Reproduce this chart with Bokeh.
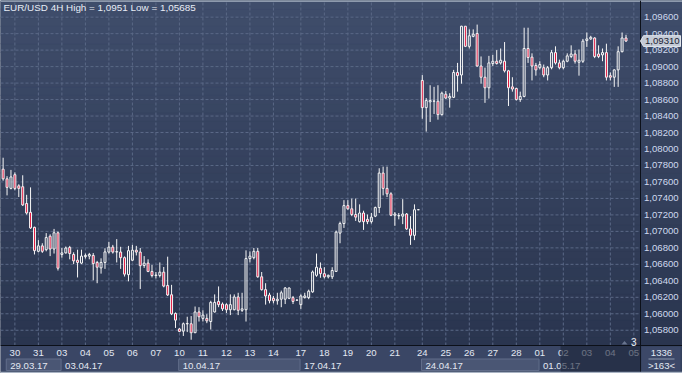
import numpy as np
from bokeh.plotting import figure
from bokeh.models import Range1d
from bokeh.core.properties import value
from bokeh.embed import file_html
from bokeh.resources import INLINE

# ---------------- data (EUR/USD 4H candles) ----------------
opens = [
    1.07755, 1.07638, 1.07522, 1.07688, 1.07553, 1.07542, 1.07339, 1.07231, 1.07049, 1.06758,
    1.06824, 1.06778, 1.06941, 1.06786, 1.06983, 1.06720, 1.06739, 1.06805, 1.06720, 1.06650,
    1.06615, 1.06693, 1.06700, 1.06708, 1.06623, 1.06557, 1.06623, 1.06749, 1.06809, 1.06749,
    1.06749, 1.06681, 1.06475, 1.06650, 1.06772, 1.06749, 1.06586, 1.06615, 1.06514, 1.06464,
    1.06464, 1.06505, 1.06344, 1.06231, 1.06004, 1.05816, 1.05789, 1.05877, 1.05879, 1.05770,
    1.06022, 1.05944, 1.05944, 1.05906, 1.06022, 1.06150, 1.06118, 1.06111, 1.06049, 1.06049,
    1.06204, 1.06042, 1.06049, 1.06670, 1.06681, 1.06758, 1.06449, 1.06293, 1.06228, 1.06188,
    1.06158, 1.06177, 1.06177, 1.06188, 1.06196, 1.06165, 1.06111, 1.06196, 1.06196, 1.06266,
    1.06467, 1.06553, 1.06487, 1.06449, 1.06449, 1.06514, 1.06979, 1.07095, 1.07313, 1.07274,
    1.07205, 1.07118, 1.07223, 1.07146, 1.07118, 1.07185, 1.07289, 1.07708, 1.07522, 1.07456,
    1.07196, 1.07188, 1.07185, 1.07211, 1.07030, 1.06952, 1.07263, 1.08832, 1.08502, 1.08572,
    1.08580, 1.08580, 1.08417, 1.08665, 1.08618, 1.08627, 1.08929, 1.08898, 1.09490, 1.09246,
    1.09367, 1.09402, 1.09007, 1.08871, 1.08743, 1.09037, 1.09065, 1.09045, 1.09065, 1.08949,
    1.08754, 1.08735, 1.08600, 1.08638, 1.09220, 1.09115, 1.09014, 1.08987, 1.08987, 1.08898,
    1.08987, 1.09170, 1.09045, 1.08987, 1.09065, 1.09123, 1.09153, 1.09053, 1.09065, 1.09316,
    1.09336, 1.09347, 1.09153, 1.09142, 1.09170, 1.08890, 1.08871, 1.08960, 1.09181, 1.09347,
]
highs = [
    1.07894, 1.07670, 1.07746, 1.07716, 1.07572, 1.07681, 1.07444, 1.07534, 1.07057, 1.06894,
    1.06856, 1.06979, 1.06964, 1.07030, 1.06999, 1.06798, 1.06816, 1.06824, 1.06746, 1.06778,
    1.06778, 1.06731, 1.06739, 1.06737, 1.06642, 1.06673, 1.06795, 1.06874, 1.06836, 1.06906,
    1.06813, 1.06696, 1.06824, 1.06836, 1.06824, 1.06798, 1.06700, 1.06661, 1.06592, 1.06507,
    1.06623, 1.06568, 1.06693, 1.06351, 1.06016, 1.05828, 1.05894, 1.05964, 1.05972, 1.06088,
    1.06080, 1.06042, 1.05995, 1.06158, 1.06235, 1.06332, 1.06138, 1.06127, 1.06235, 1.06235,
    1.06255, 1.06255, 1.06770, 1.06758, 1.06798, 1.06798, 1.06507, 1.06371, 1.06255, 1.06216,
    1.06255, 1.06281, 1.06324, 1.06318, 1.06216, 1.06173, 1.06235, 1.06255, 1.06293, 1.06525,
    1.06731, 1.06623, 1.06565, 1.06475, 1.06565, 1.07010, 1.07118, 1.07379, 1.07379, 1.07398,
    1.07398, 1.07328, 1.07251, 1.07205, 1.07223, 1.07301, 1.07766, 1.07786, 1.07786, 1.07475,
    1.07235, 1.07223, 1.07391, 1.07223, 1.07185, 1.07328, 1.07266, 1.08897, 1.08618, 1.08774,
    1.08754, 1.08774, 1.08696, 1.08704, 1.08677, 1.08960, 1.09045, 1.09495, 1.09490, 1.09452,
    1.09452, 1.09510, 1.09123, 1.08987, 1.09130, 1.09142, 1.09200, 1.09220, 1.09298, 1.08960,
    1.08871, 1.08743, 1.08696, 1.09472, 1.09472, 1.09161, 1.09045, 1.09065, 1.09025, 1.09007,
    1.09200, 1.09246, 1.09084, 1.09084, 1.09161, 1.09258, 1.09200, 1.09208, 1.09336, 1.09414,
    1.09374, 1.09356, 1.09258, 1.09220, 1.09278, 1.08929, 1.08967, 1.09246, 1.09414, 1.09386,
]
lows = [
    1.07615, 1.07437, 1.07510, 1.07499, 1.07417, 1.07309, 1.07204, 1.07030, 1.06720, 1.06746,
    1.06739, 1.06758, 1.06700, 1.06731, 1.06525, 1.06681, 1.06731, 1.06661, 1.06603, 1.06441,
    1.06603, 1.06670, 1.06661, 1.06406, 1.06371, 1.06487, 1.06545, 1.06731, 1.06731, 1.06623,
    1.06545, 1.06452, 1.06394, 1.06638, 1.06708, 1.06301, 1.06557, 1.06505, 1.06441, 1.06429,
    1.06441, 1.06321, 1.06216, 1.05984, 1.05828, 1.05778, 1.05731, 1.05778, 1.05685, 1.05766,
    1.05906, 1.05906, 1.05886, 1.05809, 1.06016, 1.06080, 1.06034, 1.06010, 1.05984, 1.06042,
    1.05984, 1.06022, 1.05906, 1.06623, 1.06661, 1.06437, 1.06281, 1.06111, 1.06127, 1.06127,
    1.06111, 1.06080, 1.06118, 1.06177, 1.06118, 1.06156, 1.06060, 1.06185, 1.06177, 1.06255,
    1.06449, 1.06437, 1.06429, 1.06429, 1.06421, 1.06507, 1.06856, 1.07042, 1.07263, 1.07185,
    1.07127, 1.07107, 1.07018, 1.07088, 1.07095, 1.07173, 1.07223, 1.07437, 1.07417, 1.07185,
    1.07068, 1.07146, 1.07088, 1.07018, 1.06836, 1.06894, 1.07258, 1.08367, 1.08211, 1.08328,
    1.08425, 1.08356, 1.08406, 1.08609, 1.08502, 1.08618, 1.08696, 1.08793, 1.09237, 1.09220,
    1.09356, 1.08999, 1.08793, 1.08560, 1.08612, 1.09007, 1.09025, 1.09025, 1.08929, 1.08522,
    1.08696, 1.08588, 1.08572, 1.08627, 1.09045, 1.08832, 1.08890, 1.08967, 1.08871, 1.08832,
    1.08967, 1.09025, 1.08967, 1.08967, 1.09053, 1.09103, 1.09037, 1.08890, 1.09045, 1.09239,
    1.09324, 1.09103, 1.09103, 1.09065, 1.08832, 1.08832, 1.08754, 1.08754, 1.09173, 1.09301,
]
closes = [
    1.07638, 1.07534, 1.07661, 1.07522, 1.07522, 1.07321, 1.07223, 1.07042, 1.06766, 1.06824,
    1.06758, 1.06925, 1.06786, 1.06983, 1.06553, 1.06739, 1.06798, 1.06731, 1.06642, 1.06623,
    1.06700, 1.06708, 1.06720, 1.06609, 1.06565, 1.06623, 1.06751, 1.06809, 1.06749, 1.06755,
    1.06681, 1.06481, 1.06766, 1.06772, 1.06749, 1.06584, 1.06615, 1.06514, 1.06464, 1.06470,
    1.06505, 1.06336, 1.06228, 1.05999, 1.05923, 1.05786, 1.05879, 1.05882, 1.05770, 1.06022,
    1.05964, 1.05984, 1.05914, 1.06138, 1.06138, 1.06111, 1.06060, 1.06049, 1.06111, 1.06204,
    1.06042, 1.06060, 1.06670, 1.06700, 1.06758, 1.06449, 1.06293, 1.06216, 1.06158, 1.06158,
    1.06177, 1.06255, 1.06313, 1.06313, 1.06150, 1.06167, 1.06216, 1.06216, 1.06274, 1.06507,
    1.06565, 1.06487, 1.06449, 1.06467, 1.06525, 1.06991, 1.07095, 1.07313, 1.07274, 1.07205,
    1.07173, 1.07223, 1.07118, 1.07118, 1.07173, 1.07289, 1.07708, 1.07522, 1.07456, 1.07196,
    1.07211, 1.07193, 1.07211, 1.07030, 1.06952, 1.07263, 1.07263, 1.08502, 1.08588, 1.08588,
    1.08582, 1.08417, 1.08677, 1.08618, 1.08638, 1.08929, 1.08891, 1.09490, 1.09246, 1.09374,
    1.09394, 1.09007, 1.08871, 1.08743, 1.09045, 1.09065, 1.09037, 1.09077, 1.08949, 1.08743,
    1.08728, 1.08600, 1.08638, 1.09220, 1.09111, 1.09007, 1.08960, 1.09025, 1.08898, 1.08987,
    1.09170, 1.09045, 1.08987, 1.09065, 1.09130, 1.09153, 1.09065, 1.09077, 1.09309, 1.09336,
    1.09356, 1.09123, 1.09123, 1.09170, 1.08871, 1.08871, 1.08960, 1.09181, 1.09347, 1.09310,
]

price_ticks = [1.058, 1.060, 1.062, 1.064, 1.066, 1.068, 1.070, 1.072, 1.074, 1.076,
               1.078, 1.080, 1.082, 1.084, 1.086, 1.088, 1.090, 1.092, 1.094, 1.096]
day_labels = ["30", "31", "03", "04", "05", "06", "07", "10", "11", "12", "13", "14",
              "17", "18", "19", "20", "21", "24", "25", "26", "27", "28",
              "01", "02", "03", "04", "05"]
day_start_bar = [3, 9, 15, 21, 27, 33, 39, 45, 51, 57, 63, 69,
                 76, 82, 88, 94, 100, 107, 113, 119, 125, 131,
                 137, 143, 149, 155, 161]
week_labels = ["29.03.17", "03.04.17", "10.04.17", "17.04.17", "24.04.17", "01.05.17"]
week_start_bar = [1, 15, 45, 76, 107, 137]
last_price = 1.09310
title_text = "EUR/USD 4H High = 1,0951 Low = 1,05685"
info_top, info_bottom, shift_mark = "1336", ">163<", "3"

n = len(opens)
assert n == len(highs) == len(lows) == len(closes)

# ---------------- layout (canvas pixels) ----------------
W, H = 682, 373
PW, PT, PB = 640, 2, 345          # plot area: right edge, top, bottom
x0, x1 = -0.67, 162.7             # bar index range of plot area
y0, y1 = 1.05615, 1.09778         # price range of plot area
fx = (x1 - x0) / PW
fy = (y1 - y0) / (PB - PT)
XL, XR = x0, x1 + (W - PW) * fx
YT, YB = y1 + PT * fy, y0 - (H - PB) * fy


def cx(px):
    return x0 + px * fx


def cy(py):
    return y1 - (py - PT) * fy


FONT = value("Liberation Sans")
TXT = "#e3e8f2"
FS = "9.6px"

p = figure(width=W, height=H, x_range=Range1d(XL, XR), y_range=Range1d(YB, YT),
           output_backend="svg", toolbar_location=None,
           x_axis_location=None, y_axis_location=None,
           min_border=0, min_border_left=0, min_border_right=0,
           min_border_top=0, min_border_bottom=0)
p.outline_line_color = None
p.background_fill_color = "#33405c"
p.border_fill_color = "#33405c"
for g in p.grid:
    g.visible = False

# vertical gradient (plot area + price column)
top_c = np.array([63, 77, 107])
bot_c = np.array([42, 53, 79])
nb = 40
edges = np.linspace(y0, YT, nb + 1)
tt = (np.arange(nb) + 0.5) / nb
band_cols = ["#%02x%02x%02x" % tuple((bot_c + (top_c - bot_c) * t).round().astype(int)) for t in tt]
p.quad(left=XL, right=XR, bottom=edges[:-1], top=edges[1:], fill_color=band_cols,
       line_color=band_cols, line_width=0.6)

# bottom time strip + week boxes
p.quad(left=XL, right=x1, bottom=cy(371), top=y0, fill_color="#3a4665", line_color=None)
wl, wr = [], []
for i, s in enumerate(week_start_bar):
    if i % 2 == 0:
        e = week_start_bar[i + 1] if i + 1 < len(week_start_bar) else x1
        wl.append(s - 0.2)
        wr.append(min(e, x1) - 0.2)
p.quad(left=wl, right=wr, bottom=cy(370), top=cy(358.5), fill_color="#4a5674",
       line_color="#616d8a", line_width=1)

# info box bottom-right
p.quad(left=cx(641), right=cx(680), bottom=cy(371), top=cy(346), fill_color="#3c4868",
       line_color=None)
p.segment(x0=cx(648), y0=cy(358.5), x1=cx(674), y1=cy(358.5), line_color="#8d99ae",
          line_width=1)

# light outer border lines
p.quad(left=XL, right=XR, bottom=cy(1.3), top=YT, fill_color="#a9b3c3", line_color=None)
p.quad(left=XL, right=XR, bottom=YB, top=cy(371.3), fill_color="#a9b3c3", line_color=None)

# dashed grid at day starts and price ticks (plot area only)
GRID = "#5a6886"
p.segment(x0=day_start_bar, y0=y0, x1=day_start_bar, y1=y1, line_color=GRID,
          line_dash="3 2", line_width=1)
p.segment(x0=x0, y0=price_ticks, x1=x1, y1=price_ticks, line_color=GRID,
          line_dash="3 2", line_width=1)

# frame lines (price scale separator and time scale separator)
p.segment(x0=x1, y0=cy(371), x1=x1, y1=YT, line_color="#0c1019", line_width=1)
p.segment(x0=XL, y0=y0, x1=XR, y1=y0, line_color="#0c1019", line_width=1)

# candles
o = np.array(opens); h = np.array(highs); l = np.array(lows); c = np.array(closes)
xi = np.arange(n)
btop = np.maximum(o, c)
bbot = np.minimum(o, c)
bear = c < o
fill = np.where(bear, "#e0103a", "#35425f")
alpha = np.where(bear, 1.0, 0.0)
WHITE = "#f7f7f7"
p.segment(x0=xi, y0=h, x1=xi, y1=btop, line_color=WHITE, line_width=1)
p.segment(x0=xi, y0=bbot, x1=xi, y1=l, line_color=WHITE, line_width=1)
p.vbar(x=xi, width=0.5, top=btop, bottom=bbot, fill_color=fill, fill_alpha=alpha,
       line_color=WHITE, line_width=1)

# price scale labels
price_txt = [f"{t:.5f}".replace(".", ",") for t in price_ticks]
p.text(x=cx(643.5), y=price_ticks, text=price_txt, text_align="left", text_baseline="middle",
       text_font=FONT, text_font_size=FS, text_color="#cfd9ee")

# time scale labels
p.text(x=day_start_bar, y=cy(352.5), text=day_labels, text_align="center",
       text_baseline="middle", text_font=FONT, text_font_size=FS, text_color=TXT)
p.text(x=[max(s, 1) - 0.2 for s in week_start_bar], y=cy(365), text=week_labels,
       x_offset=4, text_align="left", text_baseline="middle", text_font=FONT,
       text_font_size=FS, text_color=TXT)

# info texts
p.text(x=cx(661), y=[cy(352.5), cy(365)], text=[info_top, info_bottom], text_align="center",
       text_baseline="middle", text_font=FONT, text_font_size=FS, text_color=TXT)

# shift marker "3" with little triangle
p.text(x=cx(636), y=cy(341), text=[shift_mark], text_align="right", text_baseline="middle",
       text_font=FONT, text_font_size="10px", text_color="#eef2f8")
p.patch(x=[cx(621), cx(627), cx(624)], y=[cy(344), cy(344), cy(340.5)],
        fill_color="#69758f", line_color=None)

# last price marker
p.patch(x=[x1, cx(643), cx(680), cx(680), cx(643)],
        y=[last_price, last_price + 5.4 * fy, last_price + 5.4 * fy,
           last_price - 5.4 * fy, last_price - 5.4 * fy],
        fill_color="#c3cad6", line_color="#e2e6ec", line_width=1)
p.text(x=cx(644.5), y=last_price, text=[f"{last_price:.5f}".replace(".", ",")],
       text_align="left", text_baseline="middle", text_font=FONT, text_font_size=FS,
       text_color="#1c2333")

# title
p.text(x=cx(3), y=cy(7.3), text=[title_text], text_align="left", text_baseline="middle",
       text_font=FONT, text_font_size="9.9px", text_color="#e8edf6")

# darkened tail of the time scale
p.quad(left=142.3, right=x1, bottom=cy(371), top=cy(345.5), fill_color="#1b2337",
       fill_alpha=0.6, line_color=None)

open("out.html", "w").write(file_html(p, INLINE))
